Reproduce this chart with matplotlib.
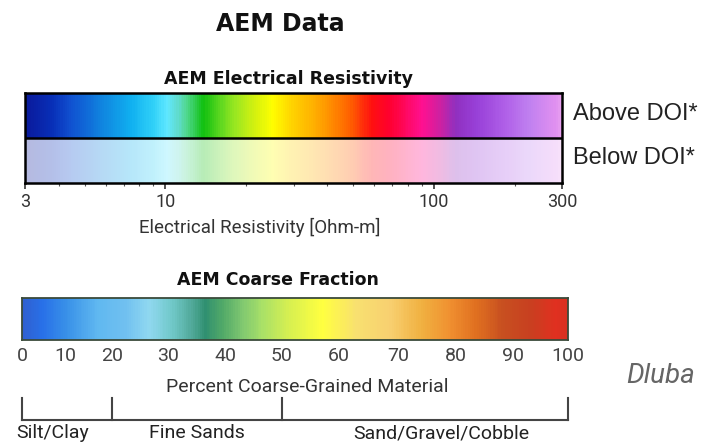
import numpy as np
import matplotlib.pyplot as plt
from matplotlib.colors import LinearSegmentedColormap, LogNorm, Normalize
from matplotlib.ticker import FixedLocator, LogLocator, NullFormatter

W, H = 706, 444

# resistivity colour stops (Ohm-m)
res_stops = [3, 3.8, 4.4, 5.9, 7.4, 9, 10.1, 11, 12, 13.8, 16, 18.5, 21.2, 25, 30,
             38.6, 48.7, 59, 68.6, 91, 105, 122, 145, 187, 228, 287, 300]
res_colors = ['#0a1a9c', '#0830b8', '#1050d0', '#1088e0', '#10b0f0', '#30d0f8',
              '#60e8ff', '#60dcd0', '#50d890', '#10c010', '#60d820', '#a0e820',
              '#d0f010', '#ffff00', '#ffd000', '#ffa000', '#ff6000', '#ff1010',
              '#ff0030', '#ff1090', '#d020a0', '#9030c0', '#9840d8', '#b060e8',
              '#c080f0', '#e090f0', '#e8a0f0']
res_ticks = [3, 10, 100, 300]
row_labels = ['Above DOI*', 'Below DOI*']

# coarse fraction colour stops (percent)
coarse_stops = [0, 4.6, 9.9, 16.9, 22.4, 26.5, 30.8, 34.2, 36.5, 39.5, 43, 46.5,
                51.4, 57.2, 63.1, 68.5, 74.2, 79, 83.6, 88.2, 93, 98, 100]
coarse_colors = ['#3060d0', '#2870e8', '#3890e8', '#60b8f0', '#70c0f0', '#90d8f0',
                 '#70c8c8', '#50a898', '#309070', '#50a868', '#80c870', '#a8e068',
                 '#d8f050', '#ffff40', '#f8e070', '#f8d070', '#f0b040', '#f09030',
                 '#e07020', '#c85020', '#c84020', '#e03020', '#d83020']
coarse_ticks = [0, 10, 20, 30, 40, 50, 60, 70, 80, 90, 100]
# the printed axis is not evenly spaced: where each tick sits along the bar
coarse_tick_frac = [0, 0.08, 0.165, 0.267, 0.372, 0.476, 0.58, 0.69, 0.795, 0.9, 1.0]
class_bounds = [0, 20, 50, 100]
class_labels = ['Silt/Clay', 'Fine Sands', 'Sand/Gravel/Cobble']


def rect(x0, y0, x1, y1):
    # pixel box (top-left origin) -> figure fraction
    return [x0 / W, 1 - y1 / H, (x1 - x0) / W, (y1 - y0) / H]


def ftext(x, y, s, **kw):
    fig.text(x / W, 1 - y / H, s, ha=kw.pop('ha', 'center'), va=kw.pop('va', 'center'), **kw)


def coarse_fwd(v):
    return np.interp(v, coarse_ticks, coarse_tick_frac)


def coarse_inv(f):
    return np.interp(f, coarse_tick_frac, coarse_ticks)


fig = plt.figure(figsize=(W / 100, H / 100), dpi=100)
fig.patch.set_facecolor('white')

ftext(280, 24, 'AEM Data', family='DejaVu Sans', weight='bold', fontsize=17, color='#111111')

# ---- resistivity bar ----
res_norm = LogNorm(vmin=3, vmax=300)
res_cmap = LinearSegmentedColormap.from_list('res', list(zip(res_norm(res_stops), res_colors)))
ax1 = fig.add_axes(rect(25, 93, 562, 183))
xe = np.geomspace(3, 300, 501)
xc = np.sqrt(xe[:-1] * xe[1:])
ax1.pcolormesh(xe, [1, 2], xc[None, :], cmap=res_cmap, norm=res_norm, shading='flat')
ax1.pcolormesh(xe, [0, 1], xc[None, :], cmap=res_cmap, norm=res_norm, shading='flat', alpha=0.3)
ax1.set_xscale('log')
ax1.set_xlim(3, 300)
ax1.set_ylim(0, 2)
ax1.axhline(1, color='black', lw=1.8)
for sp in ax1.spines.values():
    sp.set_linewidth(1.8)
ax1.set_yticks([])
ax1.xaxis.set_major_locator(FixedLocator(res_ticks))
ax1.set_xticklabels([str(t) for t in res_ticks])
ax1.xaxis.set_minor_locator(LogLocator(subs=np.arange(2, 10)))
ax1.xaxis.set_minor_formatter(NullFormatter())
ax1.tick_params(axis='x', which='major', length=4, width=1.2, color='#333333', pad=3,
                labelsize=13, labelcolor='#333333', labelfontfamily='Roboto')
ax1.tick_params(axis='x', which='minor', length=2.5, width=0.8, color='#555555')

ftext(289, 79, 'AEM Electrical Resistivity', family='DejaVu Sans', weight='bold', fontsize=12.5, color='#111111')
ftext(573, 114, row_labels[0], ha='left', family='Liberation Sans', fontsize=17, color='#222222')
ftext(573, 158, row_labels[1], ha='left', family='Liberation Sans', fontsize=17, color='#222222')
ftext(260, 227, 'Electrical Resistivity [Ohm-m]', family='Roboto', fontsize=13.5, color='#333333')

# ---- coarse fraction bar ----
ftext(278, 280, 'AEM Coarse Fraction', family='DejaVu Sans', weight='bold', fontsize=12.5, color='#111111')
c_norm = Normalize(0, 100)
c_cmap = LinearSegmentedColormap.from_list('coarse', list(zip(c_norm(coarse_stops), coarse_colors)))
ax2 = fig.add_axes(rect(22, 298, 568, 340))
ce = np.linspace(0, 100, 501)
cc = 0.5 * (ce[:-1] + ce[1:])
ax2.set_xscale('function', functions=(coarse_fwd, coarse_inv))
ax2.pcolormesh(ce, [0, 1], cc[None, :], cmap=c_cmap, norm=c_norm, shading='flat')
ax2.set_xlim(0, 100)
ax2.set_ylim(0, 1)
for sp in ax2.spines.values():
    sp.set_linewidth(1.3)
    sp.set_color('#3a4a3a')
ax2.set_yticks([])
ax2.xaxis.set_major_locator(FixedLocator(coarse_ticks))
ax2.set_xticklabels([str(t) for t in coarse_ticks])
ax2.xaxis.set_minor_locator(FixedLocator([0, 100]))
ax2.tick_params(axis='x', which='major', length=0, pad=5,
                labelsize=14, labelcolor='#444444', labelfontfamily='Roboto')
ax2.tick_params(axis='x', which='minor', length=5, width=1.2, color='#777777')

ftext(307, 387, 'Percent Coarse-Grained Material', family='Roboto', fontsize=14, color='#333333')

# ---- grain size bracket ----
ax3 = fig.add_axes(rect(22, 398, 568, 420))
ax3.set_xscale('function', functions=(coarse_fwd, coarse_inv))
ax3.set_xlim(0, 100)
ax3.set_ylim(0, 1)
ax3.axis('off')
ax3.plot([class_bounds[0], class_bounds[-1]], [0, 0], color='#444444', lw=1.5, clip_on=False)
for b in class_bounds:
    ax3.plot([b, b], [0, 1], color='#444444', lw=1.5, clip_on=False)

ftext(53, 433, class_labels[0], family='Roboto', fontsize=14, color='#222222')
ftext(197, 433, class_labels[1], family='Roboto', fontsize=14, color='#222222')
ftext(441, 433, class_labels[2], family='Roboto', fontsize=14, color='#222222')

ftext(626, 376, 'Dluba', ha='left', family='Roboto', style='italic', fontsize=20, color='#666666')

fig.savefig('out.png', dpi=100)
